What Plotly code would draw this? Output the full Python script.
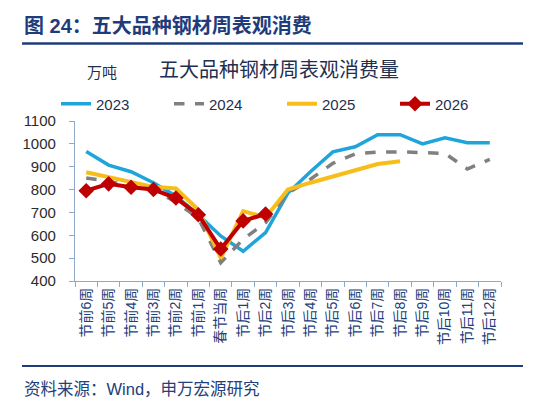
import plotly.graph_objects as go

categories = ["节前6周", "节前5周", "节前4周", "节前3周", "节前2周", "节前1周", "春节当周",
              "节后1周", "节后2周", "节后3周", "节后4周", "节后5周", "节后6周", "节后7周",
              "节后8周", "节后9周", "节后10周", "节后11周", "节后12周"]

v2023 = [967, 907, 878, 830, 772, 690, 597, 530, 612, 785, 878, 965, 987, 1040, 1040, 1000, 1027, 1005, 1005]
v2024 = [851, 835, 815, 800, 745, 675, 480, 583, 655, 785, 845, 915, 956, 964, 965, 962, 958, 890, 932]
v2025 = [876, 855, 833, 812, 805, 712, 500, 706, 678, 800, 830, 858, 887, 912, 924]
v2026 = [795, 825, 810, 800, 763, 690, 540, 663, 693]

series_names = ["2023", "2024", "2025", "2026"]
y_ticks = [400, 500, 600, 700, 800, 900, 1000, 1100]

FONT = "Liberation Sans, Arial, Noto Sans CJK SC"
NAVY = "#1F3C7A"

# plot area in pixels
W, H = 540, 398
L, R, T, B = 67, 493, 113, 273


def px(x):
    return (x - L) / (R - L)


def py(y):
    return (B - y) / (B - T)


fig = go.Figure()
fig.add_trace(go.Scatter(x=categories, y=v2023, name=series_names[0], mode="lines",
                         line=dict(color="#1FA5DA", width=3.5)))
fig.add_trace(go.Scatter(x=categories, y=v2024, name=series_names[1], mode="lines",
                         line=dict(color="#808080", width=3.5, dash="dash")))
fig.add_trace(go.Scatter(x=categories[:len(v2025)], y=v2025, name=series_names[2], mode="lines",
                         line=dict(color="#F7BE1B", width=4)))
fig.add_trace(go.Scatter(x=categories[:len(v2026)], y=v2026, name=series_names[3], mode="lines+markers",
                         line=dict(color="#BF0000", width=4),
                         marker=dict(symbol="diamond", size=12, color="#BF0000")))

fig.update_layout(
    width=W, height=H,
    margin=dict(l=L, r=W - R, t=T, b=H - B, pad=0),
    paper_bgcolor="white", plot_bgcolor="white",
    font=dict(family=FONT, size=13, color="#333333"),
    showlegend=True,
    legend=dict(orientation="h", x=px(48), xanchor="left", y=py(96), yanchor="middle",
                font=dict(size=15, color="#1F2F50", family=FONT),
                entrywidth=68, entrywidthmode="pixels",
                bgcolor="rgba(0,0,0,0)", borderwidth=0, traceorder="normal"),
)

fig.update_xaxes(
    type="category", showgrid=False, showline=True, linecolor="#8FA9C9", linewidth=1.2,
    ticks="outside", tickson="boundaries", ticklen=5, tickcolor="#8FA9C9",
    tickangle=-90, tickfont=dict(size=14, color="#22407A", family=FONT),
    range=[-0.5, len(categories) - 0.5],
)
fig.update_yaxes(
    range=[400, 1100], tickvals=y_ticks, showgrid=False, zeroline=False,
    showline=True, linecolor="#8FA9C9", linewidth=1.2,
    ticks="outside", ticklen=5, tickcolor="#8FA9C9", ticklabelstandoff=10,
    tickfont=dict(size=15, color="#2B2B2B", family=FONT),
)

annotations = [
    dict(text="<b>图 24：五大品种钢材周表观消费</b>", x=px(14), y=py(18), xanchor="left", yanchor="middle",
         font=dict(size=20, color=NAVY, family=FONT)),
    dict(text="万吨", x=px(94), y=py(64), xanchor="center", yanchor="middle",
         font=dict(size=15, color="#1F2F50", family=FONT)),
    dict(text="五大品种钢材周表观消费量", x=px(271), y=py(62), xanchor="center", yanchor="middle",
         font=dict(size=20, color="#1F2F50", family=FONT)),
    dict(text="资料来源：Wind，申万宏源研究", x=px(14), y=py(381), xanchor="left", yanchor="middle",
         font=dict(size=16.5, color="#22407A", family=FONT)),
]
for a in annotations:
    a.update(xref="paper", yref="paper", showarrow=False)
fig.update_layout(annotations=annotations)

fig.update_layout(shapes=[
    dict(type="line", xref="paper", yref="paper", x0=px(14), x1=px(515), y0=py(35.5), y1=py(35.5),
         line=dict(color=NAVY, width=2.5)),
    dict(type="line", xref="paper", yref="paper", x0=px(14), x1=px(515), y0=py(358), y1=py(358),
         line=dict(color=NAVY, width=2)),
])

fig.write_html("out.html")
